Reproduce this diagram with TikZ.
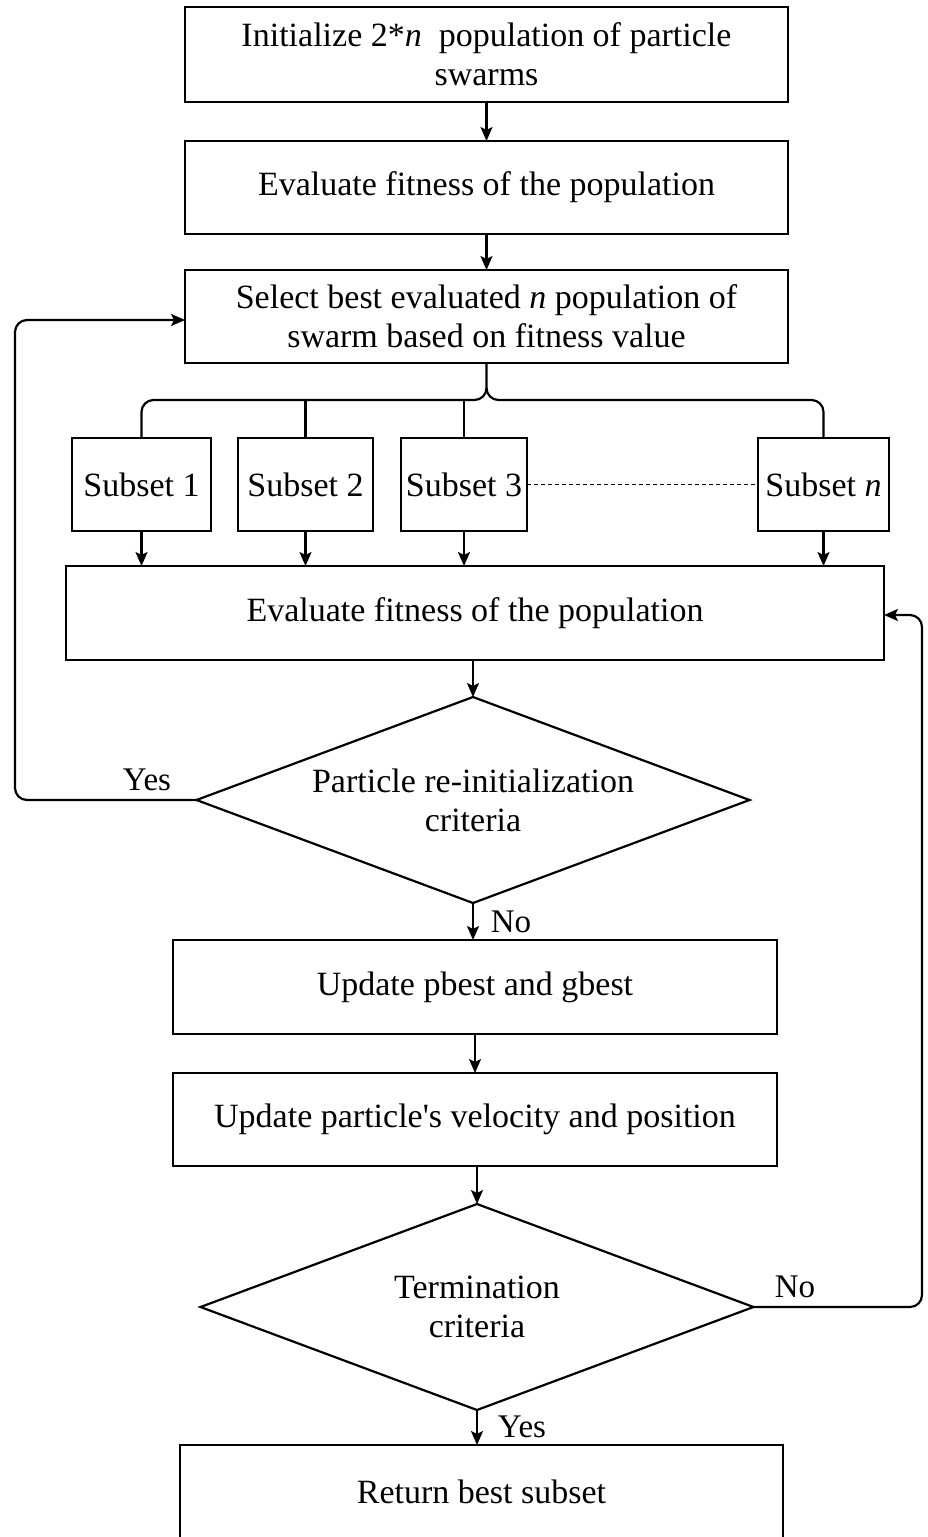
\documentclass[tikz,border=0pt]{standalone}
\usepackage{fontspec}
\setmainfont{Liberation Serif}
\usetikzlibrary{shapes.geometric,arrows.meta}
\begin{document}
\begin{tikzpicture}[x=1pt,y=-1pt,
  every node/.style={font=\fontsize{34}{39}\selectfont, outer sep=0pt, inner sep=0pt},
  box/.style={draw, line width=2.2pt, rectangle, align=center},
  dia/.style={draw, line width=2.2pt, diamond, align=center, aspect=2.68,
              minimum width=553pt, minimum height=206pt},
  lbl/.style={font=\fontsize{33}{38}\selectfont},
  arr/.style={line width=2.2pt, -{Stealth[length=14pt,width=12pt,inset=3pt]}},
  ln/.style={line width=2.2pt}]
\useasboundingbox (0,0) rectangle (927,1537);
\fill[white] (0,0) rectangle (927,1537);

% boxes
\node[box, minimum width=603pt, minimum height=95pt] (B1) at (486.5,54.5)
  {Initialize 2*\textit{n}~ population of particle\\swarms};
\node[box, minimum width=603pt, minimum height=93pt] (B2) at (486.5,187.5)
  {Evaluate fitness of the population};
\node[box, minimum width=603pt, minimum height=93pt] (B3) at (486.5,316.5)
  {Select best evaluated \textit{n} population of\\swarm based on fitness value};

\node[box, minimum width=139pt, minimum height=93pt] (S1) at (141.5,484.5) {Subset 1};
\node[box, minimum width=135pt, minimum height=93pt] (S2) at (305.5,484.5) {Subset 2};
\node[box, minimum width=126pt, minimum height=93pt] (S3) at (464,484.5) {Subset 3};
\node[box, minimum width=131pt, minimum height=93pt] (Sn) at (823.5,484.5) {Subset \textit{n}};

\node[box, minimum width=818pt, minimum height=94pt] (E2) at (475,613)
  {Evaluate fitness of the population};

\node[dia] (D1) at (473,800) {Particle re-initialization\\criteria};

\node[box, minimum width=604pt, minimum height=94pt] (U1) at (475,987)
  {Update pbest and gbest};
\node[box, minimum width=604pt, minimum height=93pt] (U2) at (475,1119.5)
  {Update particle\textquotesingle s velocity and position};

\node[dia] (D2) at (477,1307) {Termination\\criteria};

\node[box, minimum width=603pt, minimum height=100pt] (R) at (481.5,1495) {};
\node (Rt) at (481.5,1492) {Return best subset};

% labels
\node[lbl] (yes1) at (147,780) {Yes};
\node[lbl] (no1) at (511,922) {No};
\node[lbl] (no2) at (795,1287) {No};
\node[lbl] (yes2) at (522,1427) {Yes};

% coordinates
\coordinate (bar) at (486.5,400);
\coordinate (stem) at (486.5,388);
\coordinate (yl) at (15,800);
\coordinate (nl) at (922,1307);

% connectors
\draw[arr] (B1) -- (B2);
\draw[arr] (B2) -- (B3);
\draw[ln, rounded corners=12pt] (B3.south) -- (bar) -- (S1.north |- bar) -- (S1.north);
\draw[ln, rounded corners=12pt] (stem) -- (bar) -- (Sn.north |- bar) -- (Sn.north);
\draw[ln] (S2.north |- bar) -- (S2.north);
\draw[ln] (S3.north |- bar) -- (S3.north);
\draw[line width=1.3pt, dash pattern=on 4pt off 3pt] (S3.east) -- (Sn.west);

\draw[arr] (S1.south) -- (S1.south |- E2.north);
\draw[arr] (S2.south) -- (S2.south |- E2.north);
\draw[arr] (S3.south) -- (S3.south |- E2.north);
\draw[arr] (Sn.south) -- (Sn.south |- E2.north);

\draw[arr] (E2.south -| D1.north) -- (D1.north);
\draw[arr, rounded corners=12pt] (D1.west) -- (yl) -- (yl |- 0,320) -- (B3.west |- 0,320);
\draw[arr] (D1.south) -- (D1.south |- U1.north);
\draw[arr] (U1) -- (U2);
\draw[arr] (U2.south -| D2.north) -- (D2.north);
\draw[arr, rounded corners=12pt] (D2.east) -- (nl) -- (nl |- 0,615) -- (E2.east |- 0,615);
\draw[arr] (D2.south) -- (D2.south |- R.north);
\end{tikzpicture}
\end{document}
